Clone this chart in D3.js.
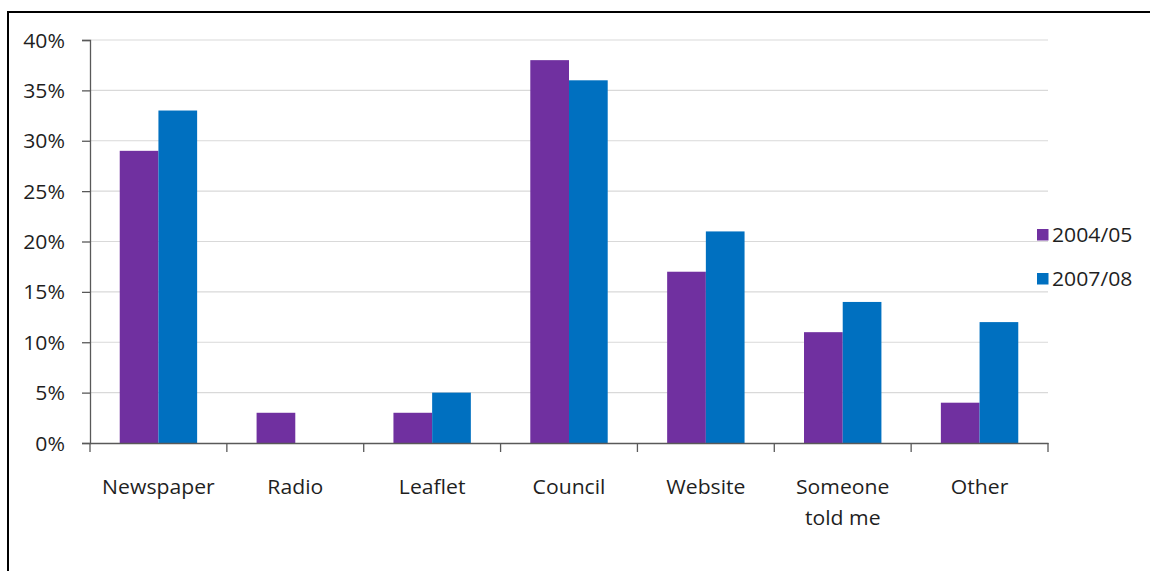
<!DOCTYPE html>
<html>
<head>
<meta charset="utf-8">
<script src="https://cdn.jsdelivr.net/npm/d3@7"></script>
<style>
  html, body { margin: 0; padding: 0; background: #fff; }
  svg { display: block; }
  text { font-family: "Open Sans", "Noto Sans", sans-serif; fill: #1f1f1f; }
</style>
</head>
<body>
<svg id="chart" width="1150" height="571"></svg>
<script>
// How people heard about it, share of respondents by year
const categories = ["Newspaper", "Radio", "Leaflet", "Council", "Website", "Someone told me", "Other"];
const categoryLines = [["Newspaper"], ["Radio"], ["Leaflet"], ["Council"], ["Website"], ["Someone", "told me"], ["Other"]];
const seriesNames = ["2004/05", "2007/08"];
const values2004 = [0.29, 0.03, 0.03, 0.38, 0.17, 0.11, 0.04];
const values2007 = [0.33, 0.00, 0.05, 0.36, 0.21, 0.14, 0.12];
const yTicks = [0, 0.05, 0.10, 0.15, 0.20, 0.25, 0.30, 0.35, 0.40];
const colors = ["#7030A0", "#0070C0"];

const svg = d3.select("#chart");
const W = 1150, H = 571;
const plot = { left: 90, right: 1048, top: 40, bottom: 443 };
const fontSize = 20;
const stretch = 1.06;

// Outer frame (left and top edges visible)
svg.append("path")
  .attr("d", `M8,${H} L8,12 L${W},12`)
  .attr("fill", "none")
  .attr("stroke", "#000")
  .attr("stroke-width", 2);

const y = d3.scaleLinear().domain([0, 0.4]).range([plot.bottom, plot.top]);
const x0 = d3.scaleBand().domain(categories).range([plot.left, plot.right]).padding(0);
const barW = x0.bandwidth() * 0.2828;
const x1 = d3.scaleBand().domain(seriesNames).range([0, barW * 2]).padding(0);
const groupOffset = (x0.bandwidth() - barW * 2) / 2;

// Horizontal gridlines
svg.append("g")
  .selectAll("line")
  .data(yTicks.filter(t => t > 0))
  .join("line")
  .attr("x1", plot.left).attr("x2", plot.right)
  .attr("y1", d => y(d)).attr("y2", d => y(d))
  .attr("stroke", "#d9d9d9")
  .attr("stroke-width", 1.2);

// Bars
const seriesData = [values2004, values2007];
seriesNames.forEach((s, si) => {
  svg.append("g")
    .selectAll("rect")
    .data(categories.map((c, i) => ({ c, v: seriesData[si][i] })).filter(d => d.v > 0))
    .join("rect")
    .attr("x", d => x0(d.c) + groupOffset + x1(s))
    .attr("y", d => y(d.v))
    .attr("width", x1.bandwidth())
    .attr("height", d => y(0) - y(d.v))
    .attr("fill", colors[si]);
});

// Y axis
const yAxis = d3.axisLeft(y)
  .tickValues(yTicks)
  .tickSize(8)
  .tickFormat(d3.format(".0%"));
const gy = svg.append("g")
  .attr("transform", `translate(${plot.left},0)`)
  .call(yAxis);
gy.select(".domain").attr("stroke", "#595959").attr("stroke-width", 1.3);
gy.selectAll(".tick line").attr("stroke", "#595959").attr("stroke-width", 1.3);
gy.selectAll(".tick text")
  .attr("x", 0).attr("dy", null).attr("y", 0)
  .attr("font-size", fontSize)
  .attr("text-anchor", "end")
  .attr("transform", `translate(-25,7) scale(${stretch},1)`)
  .style("font-family", "'Open Sans', sans-serif")
  .attr("fill", "#1f1f1f");

// X axis with ticks at category boundaries
const xAxis = d3.axisBottom(x0).tickSize(0).tickFormat("");
const gx = svg.append("g")
  .attr("transform", `translate(0,${plot.bottom})`)
  .call(xAxis);
gx.select(".domain").attr("stroke", "#595959").attr("stroke-width", 1.3);
gx.selectAll(".tick").remove();
const boundaries = categories.map(c => x0(c)).concat([plot.right]);
gx.selectAll("line.sep")
  .data(boundaries)
  .join("line")
  .attr("class", "sep")
  .attr("x1", d => d).attr("x2", d => d)
  .attr("y1", 0).attr("y2", 9)
  .attr("stroke", "#595959")
  .attr("stroke-width", 1.3);

// Category labels
const labels = svg.append("g");
categories.forEach((c, i) => {
  const cx = x0(c) + x0.bandwidth() / 2;
  const t = labels.append("text")
    .attr("font-size", fontSize)
    .attr("text-anchor", "middle")
    .attr("transform", `translate(${cx},${494}) scale(${stretch},1)`);
  categoryLines[i].forEach((line, li) => {
    t.append("tspan").attr("x", 0).attr("y", li * 31).text(line);
  });
});

// Legend
const legend = svg.append("g");
seriesNames.forEach((s, si) => {
  const ly = 229 + si * 44;
  legend.append("rect")
    .attr("x", 1037).attr("y", ly)
    .attr("width", 11.5).attr("height", 11.5)
    .attr("fill", colors[si]);
  legend.append("text")
    .attr("font-size", fontSize)
    .attr("transform", `translate(1052,${ly + 12.5}) scale(${stretch},1)`)
    .text(s);
});
</script>
</body>
</html>
